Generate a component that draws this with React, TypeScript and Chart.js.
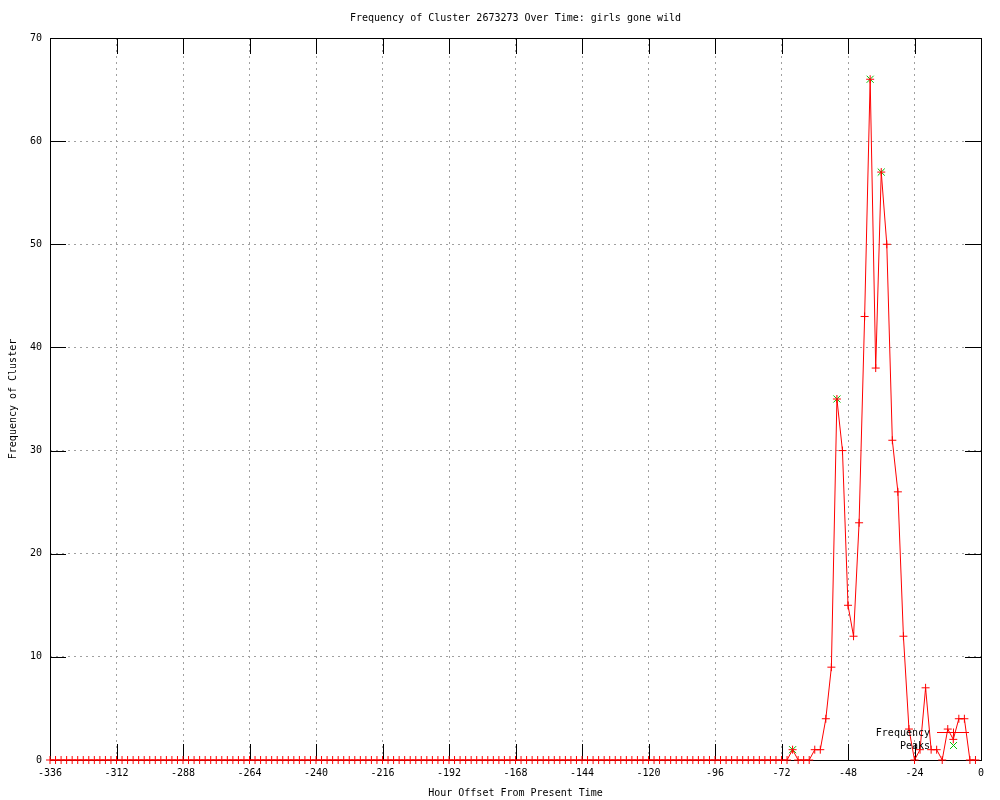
import React, { useEffect, useRef } from "react";
import { Chart, registerables } from "chart.js";

Chart.register(...registerables);

const TITLE = "Frequency of Cluster 2673273 Over Time: girls gone wild";
const X_TITLE = "Hour Offset From Present Time";
const Y_TITLE = "Frequency of Cluster";

const HOURS = [
  -336, -334, -332, -330, -328, -326, -324, -322, -320, -318, -316, -314,
  -312, -310, -308, -306, -304, -302, -300, -298, -296, -294, -292, -290,
  -288, -286, -284, -282, -280, -278, -276, -274, -272, -270, -268, -266,
  -264, -262, -260, -258, -256, -254, -252, -250, -248, -246, -244, -242,
  -240, -238, -236, -234, -232, -230, -228, -226, -224, -222, -220, -218,
  -216, -214, -212, -210, -208, -206, -204, -202, -200, -198, -196, -194,
  -192, -190, -188, -186, -184, -182, -180, -178, -176, -174, -172, -170,
  -168, -166, -164, -162, -160, -158, -156, -154, -152, -150, -148, -146,
  -144, -142, -140, -138, -136, -134, -132, -130, -128, -126, -124, -122,
  -120, -118, -116, -114, -112, -110, -108, -106, -104, -102, -100, -98,
  -96, -94, -92, -90, -88, -86, -84, -82, -80, -78, -76, -74,
  -72, -70, -68, -66, -64, -62, -60, -58, -56, -54, -52, -50,
  -48, -46, -44, -42, -40, -38, -36, -34, -32, -30, -28, -26,
  -24, -22, -20, -18, -16, -14, -12, -10, -8, -6, -4, -2,
];

const FREQUENCY = [
  0, 0, 0, 0, 0, 0, 0, 0, 0, 0, 0, 0,
  0, 0, 0, 0, 0, 0, 0, 0, 0, 0, 0, 0,
  0, 0, 0, 0, 0, 0, 0, 0, 0, 0, 0, 0,
  0, 0, 0, 0, 0, 0, 0, 0, 0, 0, 0, 0,
  0, 0, 0, 0, 0, 0, 0, 0, 0, 0, 0, 0,
  0, 0, 0, 0, 0, 0, 0, 0, 0, 0, 0, 0,
  0, 0, 0, 0, 0, 0, 0, 0, 0, 0, 0, 0,
  0, 0, 0, 0, 0, 0, 0, 0, 0, 0, 0, 0,
  0, 0, 0, 0, 0, 0, 0, 0, 0, 0, 0, 0,
  0, 0, 0, 0, 0, 0, 0, 0, 0, 0, 0, 0,
  0, 0, 0, 0, 0, 0, 0, 0, 0, 0, 0, 0,
  0, 0, 1, 0, 0, 0, 1, 1, 4, 9, 35, 30,
  15, 12, 23, 43, 66, 38, 57, 50, 31, 26, 12, 3,
  0, 1, 7, 1, 1, 0, 3, 2, 4, 4, 0, 0,
];

const PEAK_HOURS = [-68, -52, -40, -36];
const PEAK_VALUES = [1, 35, 66, 57];

const X_TICKS = [-336, -312, -288, -264, -240, -216, -192, -168, -144, -120, -96, -72, -48, -24, 0];
const Y_TICKS = [0, 10, 20, 30, 40, 50, 60, 70];

const FONT_FAMILY = '"DejaVu Sans Mono", "Liberation Mono", monospace';
const RED = "#ff0000";
const GREEN = "#00c000";
const GRID = "#a0a0a0";

function drawPlus(ctx: CanvasRenderingContext2D, x: number, y: number, r: number, color: string) {
  ctx.save();
  ctx.strokeStyle = color;
  ctx.lineWidth = 1;
  ctx.beginPath();
  ctx.moveTo(x - r, y);
  ctx.lineTo(x + r, y);
  ctx.moveTo(x, y - r);
  ctx.lineTo(x, y + r);
  ctx.stroke();
  ctx.restore();
}

function drawX(ctx: CanvasRenderingContext2D, x: number, y: number, r: number, color: string) {
  ctx.save();
  ctx.strokeStyle = color;
  ctx.lineWidth = 1;
  ctx.beginPath();
  ctx.moveTo(x - r, y - r);
  ctx.lineTo(x + r, y + r);
  ctx.moveTo(x + r, y - r);
  ctx.lineTo(x - r, y + r);
  ctx.stroke();
  ctx.restore();
}

const framePlugin = {
  id: "gnuplotFrame",
  beforeDatasetsDraw(chart: any) {
    const { ctx, chartArea } = chart;
    const { left, right, top, bottom } = chartArea;
    const xs = chart.scales.x;
    const ys = chart.scales.y;
    const T = 16;
    ctx.save();
    ctx.strokeStyle = "#000";
    ctx.lineWidth = 1;
    ctx.beginPath();
    for (const v of X_TICKS) {
      const px = Math.round(xs.getPixelForValue(v)) + 0.5;
      ctx.moveTo(px, bottom);
      ctx.lineTo(px, bottom - T);
      ctx.moveTo(px, top);
      ctx.lineTo(px, top + T);
    }
    for (const v of Y_TICKS) {
      const py = Math.round(ys.getPixelForValue(v)) + 0.5;
      ctx.moveTo(left, py);
      ctx.lineTo(left + T, py);
      ctx.moveTo(right, py);
      ctx.lineTo(right - T, py);
    }
    ctx.stroke();
    ctx.strokeRect(left + 0.5, top + 0.5, right - left, bottom - top);
    ctx.restore();
  },
  afterDatasetsDraw(chart: any) {
    const { ctx, chartArea } = chart;
    const { left, right } = chartArea;
    ctx.save();
    ctx.font = `10px ${FONT_FAMILY}`;
    ctx.fillStyle = "#000";
    ctx.textBaseline = "middle";
    ctx.textAlign = "center";
    ctx.fillText(TITLE, (left + right) / 2, 18);

    // legend
    ctx.textAlign = "right";
    ctx.fillText("Frequency", 930, 733);
    ctx.fillText("Peaks", 930, 746);
    ctx.strokeStyle = RED;
    ctx.lineWidth = 1;
    ctx.beginPath();
    ctx.moveTo(937, 732.5);
    ctx.lineTo(969, 732.5);
    ctx.stroke();
    drawPlus(ctx, 953.5, 732.5, 4, RED);
    drawX(ctx, 953.5, 745.5, 3.5, GREEN);
    ctx.restore();
  },
};

export default function App() {
  const canvasRef = useRef<HTMLCanvasElement | null>(null);

  useEffect(() => {
    const canvas = canvasRef.current;
    if (!canvas) return;
    const font = { family: FONT_FAMILY, size: 10 };
    const chart = new Chart(canvas, {
      type: "line",
      data: {
        datasets: [
          {
            label: "Frequency",
            data: HOURS.map((h, i) => ({ x: h, y: FREQUENCY[i] })),
            borderColor: RED,
            backgroundColor: RED,
            borderWidth: 1,
            tension: 0,
            pointStyle: "cross",
            pointRadius: 4,
            pointBorderWidth: 1,
            pointBorderColor: RED,
            clip: false,
          },
          {
            label: "Peaks",
            data: PEAK_HOURS.map((h, i) => ({ x: h, y: PEAK_VALUES[i] })),
            showLine: false,
            pointStyle: "crossRot",
            pointRadius: 5,
            pointBorderWidth: 1,
            borderColor: GREEN,
            backgroundColor: GREEN,
            clip: false,
          },
        ],
      },
      options: {
        responsive: false,
        animation: false,
        events: [],
        layout: { padding: { top: 38, right: 19, bottom: 0, left: 0 } },
        plugins: {
          legend: { display: false },
          tooltip: { enabled: false },
          title: { display: false },
        },
        scales: {
          x: {
            type: "linear",
            min: -336,
            max: 0,
            afterBuildTicks: (s: any) => {
              s.ticks = X_TICKS.map((v) => ({ value: v }));
            },
            ticks: {
              autoSkip: false,
              maxRotation: 0,
              padding: 7,
              color: "#000",
              font,
              callback: (v: any) => String(v),
            },
            grid: { color: GRID, lineWidth: 1, drawTicks: false },
            border: { display: false, dash: [2, 4] },
            title: {
              display: true,
              text: X_TITLE,
              color: "#000",
              font,
              padding: { top: 0, bottom: 1 },
            },
            afterFit: (s: any) => {
              s.height = 40;
            },
          },
          y: {
            type: "linear",
            min: 0,
            max: 70,
            afterBuildTicks: (s: any) => {
              s.ticks = Y_TICKS.map((v) => ({ value: v }));
            },
            ticks: {
              padding: 8,
              color: "#000",
              font,
              callback: (v: any) => String(v),
            },
            grid: { color: GRID, lineWidth: 1, drawTicks: false },
            border: { display: false, dash: [2, 4] },
            title: {
              display: true,
              text: Y_TITLE,
              color: "#000",
              font,
              padding: { top: 7, bottom: 0 },
            },
            afterFit: (s: any) => {
              s.width = 50;
            },
          },
        },
      },
      plugins: [framePlugin],
    });
    return () => chart.destroy();
  }, []);

  return (
    <div style={{ position: "absolute", left: 0, top: 0, width: 1000, height: 800, background: "#fff" }}>
      <canvas ref={canvasRef} width={1000} height={800} style={{ display: "block", width: 1000, height: 800 }} />
    </div>
  );
}
